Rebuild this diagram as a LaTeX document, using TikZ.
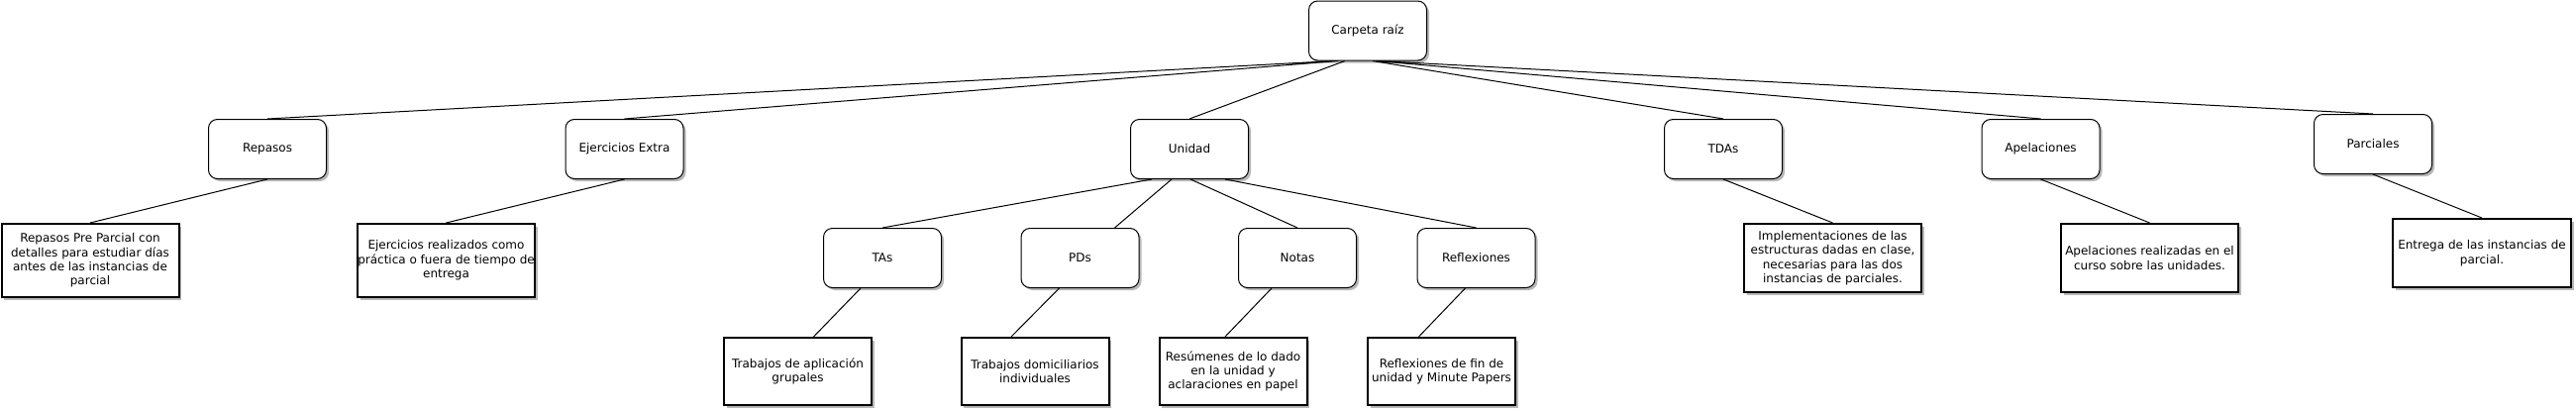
\documentclass[tikz,border=0pt]{standalone}
\usepackage{fontspec}
\setmainfont{DejaVu Sans}
\usetikzlibrary{shadows}

\begin{document}
\begin{tikzpicture}[x=1pt, y=-1pt,
            every node/.style={font=\fontsize{12}{14.4}\selectfont, align=center},
            sombra/.style={drop shadow={shadow xshift=2.5pt, shadow yshift=-2.5pt,
            fill=black!28, opacity=1}},
            carpeta/.style={draw, line width=1pt, rounded corners=9pt, fill=white,
            inner sep=0pt, minimum width=119pt, minimum height=60pt, sombra},
            hoja/.style={draw, line width=2pt, fill=white, inner sep=0pt,
            minimum width=179pt, minimum height=69pt, sombra},
            rama/.style={line width=1pt}]
            \useasboundingbox (0, 0) rectangle (2601, 415);
            \node[carpeta] (raiz) at (1381, 31) {Carpeta raíz};
            \node[carpeta] (repasos) at (270, 150.5) {Repasos};
            \node[carpeta] (ejercicios) at (630.5, 150.5) {Ejercicios Extra};
            \node[carpeta] (unidad) at (1201, 150.5) {Unidad};
            \node[carpeta] (tdas) at (1740, 150.5) {TDAs};
            \node[carpeta] (apelaciones) at (2060.5, 150.5) {Apelaciones};
            \node[carpeta] (parciales) at (2396, 145.5) {Parciales};
            \node[carpeta] (tas) at (891, 260.5) {TAs};
            \node[carpeta] (pds) at (1090.5, 260.5) {PDs};
            \node[carpeta] (notas) at (1310, 260.5) {Notas};
            \node[carpeta] (reflexiones) at (1490.5, 260.5) {Reflexiones};
            \node[hoja, minimum height=74pt] (hojaRepasos) at (91, 263)
            {Repasos Pre Parcial con\\detalles para estudiar días\\antes de las
            instancias de\\parcial};
            \node[hoja, minimum height=74pt] (hojaEjercicios) at (450.5, 263)
            {Ejercicios realizados como\\práctica o fuera de tiempo de\\entrega};
            \node[hoja, minimum width=149pt, minimum height=68pt] (hojaTas) at
            (805.5, 375) {Trabajos de aplicación\\grupales};
            \node[hoja, minimum width=149pt, minimum height=68pt] (hojaPds) at
            (1045, 375) {Trabajos domiciliarios\\individuales};
            \node[hoja, minimum width=149pt, minimum height=68pt] (hojaNotas) at
            (1245, 375) {Resúmenes de lo dado\\en la unidad y\\aclaraciones en papel};
            \node[hoja, minimum width=149pt, minimum height=68pt] (hojaReflexiones)
            at (1455.5, 375) {Reflexiones de fin de\\unidad y Minute Papers};
            \node[hoja] (hojaTdas) at (1850.5, 260.5) {Implementaciones de las\\
            estructuras dadas en clase,\\necesarias para las dos\\instancias de
            parciales.};
            \node[hoja] (hojaApelaciones) at (2170.5, 260.5) {Apelaciones realizadas
            en el\\curso sobre las unidades.};
            \node[hoja, minimum width=180pt] (hojaParciales) at (2506, 255.5)
            {Entrega de las instancias de\\parcial.};
            \draw[rama] ([xshift=-34pt]raiz.south) -- (repasos.north)
            ([xshift=-30pt]raiz.south) -- (ejercicios.north)
            ([xshift=-23pt]raiz.south) -- (unidad.north)
            ([xshift=5pt]raiz.south) -- (tdas.north)
            ([xshift=8pt]raiz.south) -- (apelaciones.north)
            ([xshift=10pt]raiz.south) -- (parciales.north);
            \draw[rama] ([xshift=-38pt]unidad.south) -- (tas.north)
            ([xshift=-18pt]unidad.south) -- ([xshift=35pt]pds.north)
            ([xshift=1pt]unidad.south) -- (notas.north)
            ([xshift=36pt]unidad.south) -- (reflexiones.north);
            \draw[rama] (repasos.south) -- (hojaRepasos.north) (ejercicios.south)
            -- (hojaEjercicios.north) (tdas.south) -- (hojaTdas.north)
            (apelaciones.south) -- (hojaApelaciones.north) (parciales.south) --
            (hojaParciales.north);
            \draw[rama] ([xshift=-22pt]tas.south) -- ([xshift=16pt]hojaTas.north)
            ([xshift=-21pt]pds.south) -- ([xshift=-24pt]hojaPds.north)
            ([xshift=-26pt]notas.south) -- ([xshift=-8pt]hojaNotas.north)
            ([xshift=-11pt]reflexiones.south) -- ([xshift=-23pt]hojaReflexiones.north);
          \end{tikzpicture}
\end{document}
